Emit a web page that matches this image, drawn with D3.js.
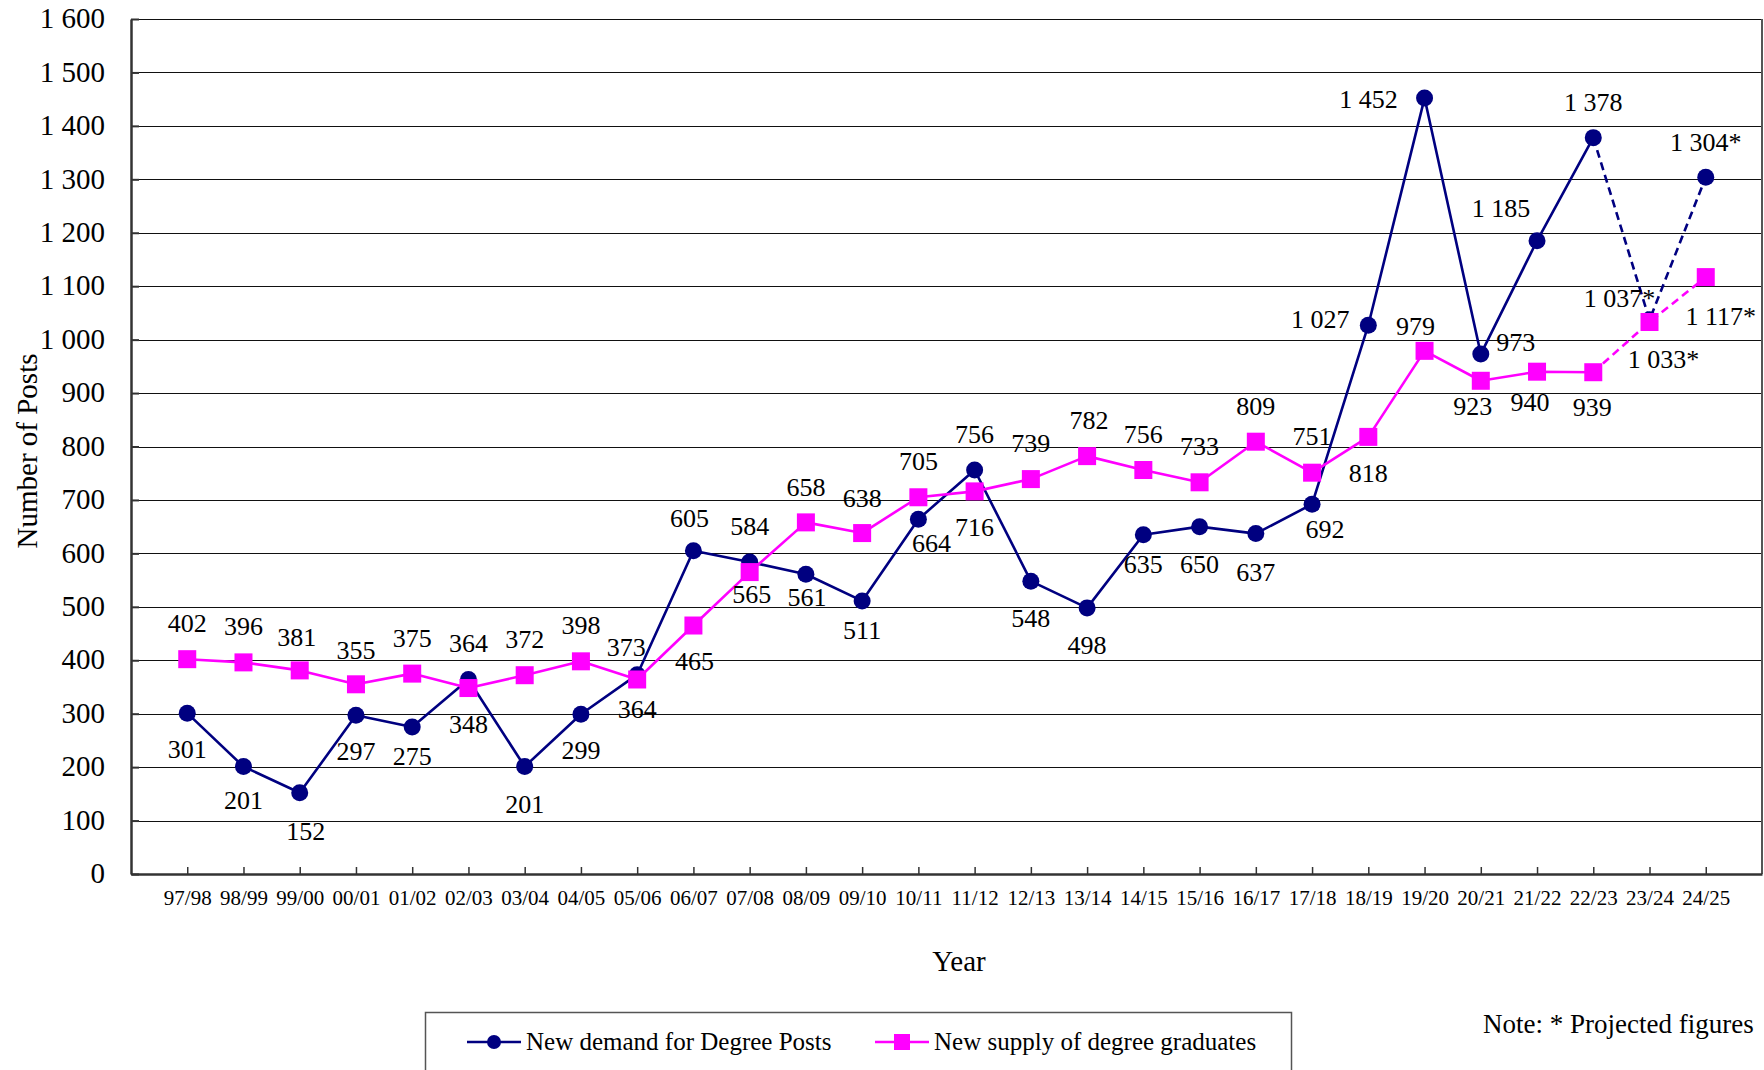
<!DOCTYPE html>
<html>
<head>
<meta charset="utf-8">
<script src="https://cdn.jsdelivr.net/npm/d3@7/dist/d3.min.js"></script>
<style>
  html, body { margin: 0; padding: 0; background: #fff; }
  svg { display: block; font-family: "Liberation Serif", "Times New Roman", serif; }
</style>
</head>
<body>
<svg id="chart" width="1764" height="1070"></svg>
<script>
// Academic years on the horizontal axis
const categories = ["97/98","98/99","99/00","00/01","01/02","02/03","03/04","04/05","05/06","06/07",
  "07/08","08/09","09/10","10/11","11/12","12/13","13/14","14/15","15/16","16/17",
  "17/18","18/19","19/20","20/21","21/22","22/23","23/24","24/25"];

// New demand for degree posts
const demand = [301, 201, 152, 297, 275, 364, 201, 299, 373, 605,
  584, 561, 511, 664, 756, 548, 498, 635, 650, 637,
  692, 1027, 1452, 973, 1185, 1378, 1037, 1304];

// New supply of degree graduates
const supply = [402, 396, 381, 355, 375, 348, 372, 398, 364, 465,
  565, 658, 638, 705, 716, 739, 782, 756, 733, 809,
  751, 818, 979, 923, 940, 939, 1033, 1117];

// Years whose figures are projections (drawn dashed, labelled with *)
const projectedYears = ["23/24", "24/25"];

const yTickValues = [0, 100, 200, 300, 400, 500, 600, 700, 800, 900, 1000, 1100, 1200, 1300, 1400, 1500, 1600];

const seriesNames = ["New demand for Degree Posts", "New supply of degree graduates"];

// Value label placement relative to each point: [dx, dy to baseline]
const demandLabelOffsets = [
  [0,45],[0,42],[6,47],[0,45],[0,38],[0,-27],[0,46],[0,45],[-11,-19],[-4,-24],
  [0,-27],[1,32],[0,38],[13,33],[0,-27],[0,46],[0,46],[0,38],[0,46],[0,47],
  [13,34],[-48,3],[-56,10],[35,-3],[-36,-24],[0,-27],[-30,-13],[0,-26]];
const supplyLabelOffsets = [
  [0,-27],[0,-27],[-3,-24],[0,-25],[0,-27],[0,45],[0,-27],[0,-27],[0,39],[1,44],
  [2,31],[0,-26],[0,-26],[0,-27],[0,45],[0,-27],[2,-27],[0,-27],[0,-27],[0,-27],
  [0,-28],[0,45],[-9,-16],[-8,34],[-7,39],[-1,44],[14,46],[15,48]];

const NAVY = "#000080", MAGENTA = "#ff00ff";

const svg = d3.select("#chart");
const plot = { left: 131, right: 1762, top: 19, bottom: 874 };

const x = d3.scalePoint().domain(categories).range([plot.left, plot.right]).padding(1);
const y = d3.scaleLinear().domain([0, 1600]).range([plot.bottom, plot.top]);

const loc = d3.formatLocale({ decimal: ".", thousands: " ", grouping: [3], currency: ["", ""] });
const fmt = loc.format(",d");
const isProjected = c => projectedYears.includes(c);

// Horizontal gridlines
svg.append("g").selectAll("line").data(yTickValues.filter(v => v > 0)).join("line")
  .attr("x1", plot.left).attr("x2", plot.right)
  .attr("y1", d => Math.round(y(d)) + 0.5).attr("y2", d => Math.round(y(d)) + 0.5)
  .attr("stroke", "#111").attr("stroke-width", 1);

// Right border
svg.append("line")
  .attr("x1", plot.right).attr("x2", plot.right)
  .attr("y1", plot.top).attr("y2", plot.bottom)
  .attr("stroke", "#555").attr("stroke-width", 2);

// Y axis
const yAxis = svg.append("g")
  .attr("transform", `translate(${plot.left},0)`)
  .call(d3.axisLeft(y).tickValues(yTickValues).tickFormat(fmt).tickSizeInner(-8).tickSizeOuter(0).tickPadding(26));
yAxis.select(".domain").attr("stroke", "#333").attr("stroke-width", 2.5);
yAxis.selectAll(".tick line").attr("stroke", "#333").attr("stroke-width", 2);
yAxis.selectAll(".tick text").attr("font-size", 29).attr("fill", "#000")
  .attr("font-family", "Liberation Serif, Times New Roman, serif").attr("dy", "0.3em");

// X axis
const xAxis = svg.append("g")
  .attr("transform", `translate(0,${plot.bottom})`)
  .call(d3.axisBottom(x).tickSizeInner(-7).tickSizeOuter(0).tickPadding(16));
xAxis.select(".domain").attr("stroke", "#333").attr("stroke-width", 2.5);
xAxis.selectAll(".tick line").attr("stroke", "#333").attr("stroke-width", 1.5);
xAxis.selectAll(".tick text").attr("font-size", 21).attr("fill", "#000")
  .attr("font-family", "Liberation Serif, Times New Roman, serif");

// Axis titles
svg.append("text").attr("x", 959).attr("y", 971).attr("text-anchor", "middle")
  .attr("font-size", 29).text("Year");
svg.append("text").attr("transform", "translate(37,451) rotate(-90)").attr("text-anchor", "middle")
  .attr("font-size", 29).text("Number of Posts");

// Build a series record list
function rows(values) {
  return categories.map((c, i) => ({ c, v: values[i], proj: isProjected(c) }));
}

function drawSeries(values, color, marker, offsets) {
  const data = rows(values);
  const g = svg.append("g");
  const line = d3.line().x(d => x(d.c)).y(d => y(d.v));
  const firstProj = data.findIndex(d => d.proj);
  const actual = data.slice(0, firstProj);
  const proj = data.slice(firstProj - 1);
  g.append("path").attr("d", line(actual)).attr("fill", "none")
    .attr("stroke", color).attr("stroke-width", 2.6).attr("stroke-linejoin", "round");
  g.append("path").attr("d", line(proj)).attr("fill", "none")
    .attr("stroke", color).attr("stroke-width", 2.6).attr("stroke-dasharray", "8,5");
  if (marker === "circle") {
    g.selectAll("circle").data(data).join("circle")
      .attr("cx", d => x(d.c)).attr("cy", d => y(d.v)).attr("r", 8.5).attr("fill", color);
  } else {
    g.selectAll("rect").data(data).join("rect")
      .attr("x", d => x(d.c) - 9).attr("y", d => y(d.v) - 9)
      .attr("width", 18).attr("height", 18).attr("fill", color);
  }
  return data.map((d, i) => ({ ...d, off: offsets[i] }));
}

const demandPts = drawSeries(demand, NAVY, "circle", demandLabelOffsets);
const supplyPts = drawSeries(supply, MAGENTA, "square", supplyLabelOffsets);

// Value labels
svg.append("g").selectAll("text").data(demandPts.concat(supplyPts)).join("text")
  .attr("x", d => x(d.c) + d.off[0])
  .attr("y", d => y(d.v) + d.off[1])
  .attr("text-anchor", "middle")
  .attr("font-size", 26)
  .attr("fill", "#000")
  .text(d => fmt(d.v) + (d.proj ? "*" : ""));

// Legend
const lg = svg.append("g");
lg.append("rect").attr("x", 425.5).attr("y", 1012.5).attr("width", 866).attr("height", 90)
  .attr("fill", "#fff").attr("stroke", "#555").attr("stroke-width", 1.5);
const legendItems = [
  { name: seriesNames[0], color: NAVY, marker: "circle", x0: 467 },
  { name: seriesNames[1], color: MAGENTA, marker: "square", x0: 875 }
];
legendItems.forEach(it => {
  lg.append("line").attr("x1", it.x0).attr("x2", it.x0 + 54).attr("y1", 1042).attr("y2", 1042)
    .attr("stroke", it.color).attr("stroke-width", 2.6);
  if (it.marker === "circle") {
    lg.append("circle").attr("cx", it.x0 + 27).attr("cy", 1042).attr("r", 7).attr("fill", it.color);
  } else {
    lg.append("rect").attr("x", it.x0 + 27 - 8).attr("y", 1042 - 8).attr("width", 16).attr("height", 16)
      .attr("fill", it.color);
  }
  lg.append("text").attr("x", it.x0 + 59).attr("y", 1050).attr("font-size", 25).text(it.name);
});

// Note
svg.append("text").attr("x", 1483).attr("y", 1033).attr("font-size", 27).text("Note: * Projected figures");
</script>
</body>
</html>
